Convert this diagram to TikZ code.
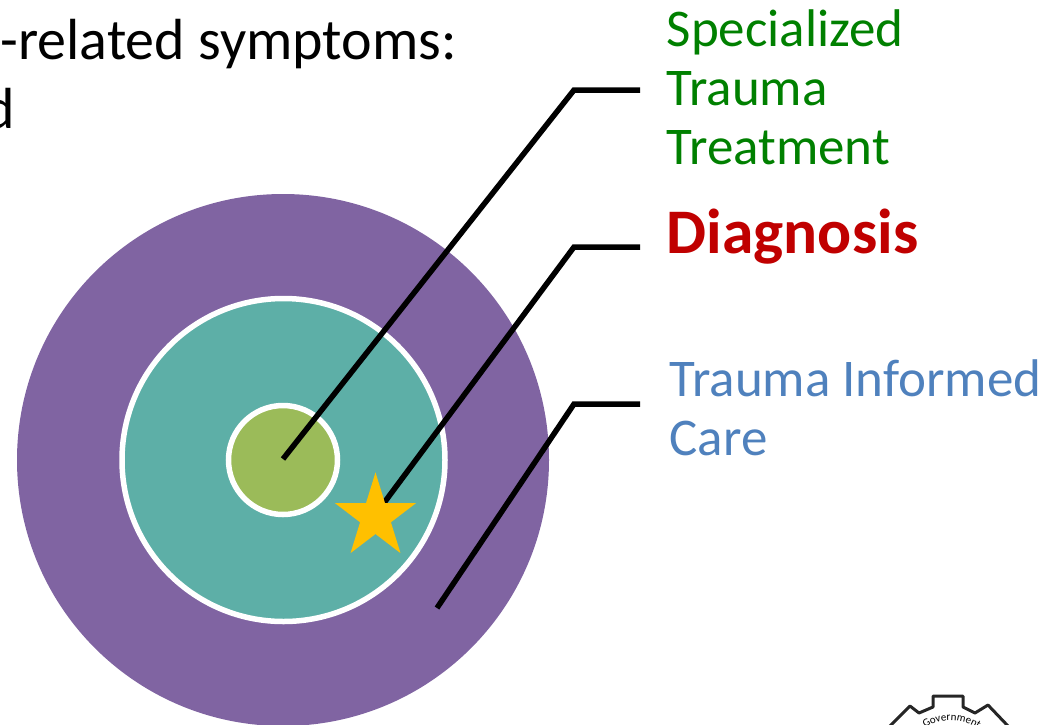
\documentclass[tikz,border=0pt]{standalone}
\usepackage{fontspec}
\setmainfont{Carlito}
\usetikzlibrary{shapes.geometric,decorations.text}
\definecolor{Outer}{HTML}{8064A2}
\definecolor{Middle}{HTML}{5DAFA7}
\definecolor{Inner}{HTML}{9BBB59}
\definecolor{Star}{HTML}{FFC000}
\definecolor{Special}{HTML}{008000}
\definecolor{Diag}{HTML}{C00000}
\definecolor{Care}{HTML}{4F81BD}

\begin{document}
\begin{tikzpicture}[
  x=1pt,y=-1pt,
  ring/.style={circle,draw=white,line width=5.5pt,inner sep=0pt},
  lab/.style={anchor=north west,align=left,inner sep=0pt,font=\fontsize{53}{59}\selectfont},
  head/.style={anchor=base east,inner sep=0pt,font=\fontsize{58}{69}\selectfont},
  lead/.style={draw=black,line width=5.5pt,line join=miter},
  gear/.style={draw=black!85,line width=3pt,line join=round}
]
  \useasboundingbox (0,0) rectangle (1053,724);
  \clip (0,0) rectangle (1053,724);

  \node[circle,fill=Outer,inner sep=0pt,minimum size=532pt] (outer) at (283,460) {};
  \node[ring,fill=Middle,minimum size=323pt] (middle) at (283.5,460) {};
  \node[ring,fill=Inner,minimum size=109pt] (inner) at (283,460) {};

  \node[head] (title) at (457,59) {-related symptoms:};
  \node[head] (titleb) at (15,128) {d};

  \node[lab,text=Special] (special) at (666.5,9.5) {Specialized\\Trauma\\Treatment};
  \node[anchor=base west,inner sep=0pt,text=Diag,font=\fontsize{63.5}{69}\selectfont\bfseries] (diag) at (666.5,253) {Diagnosis};
  \node[lab,text=Care] (care) at (669.5,359.5) {Trauma Informed\\Care};

  % leaders
  \coordinate (specialend) at (640,90);
  \coordinate (specialbend) at (574,90);
  \coordinate (specialtip) at (283,459);
  \coordinate (diagend) at (640,247);
  \coordinate (diagbend) at (574,247);
  \coordinate (diagtip) at (375,515);
  \coordinate (careend) at (640,404);
  \coordinate (carebend) at (574,404);
  \coordinate (caretip) at (437,608);

  \draw[lead] (specialend) -- (specialbend) -- (specialtip);
  \draw[lead] (diagend) -- (diagbend) -- (diagtip);
  \draw[lead] (careend) -- (carebend) -- (caretip);

  \node[star,star points=5,star point ratio=2.618,fill=Star,inner sep=0pt,minimum size=85pt,yscale=1.05,transform shape] (goal) at (375.5,517) {};

  % logo at the corner
  \draw[gear] (890,726) -- (910,706) -- (919,713) -- (933,707) -- (933,696) -- (963,696) -- (963,707) -- (975,713) -- (988,705) -- (1008,726);
  \path[postaction={decorate,decoration={text along path,text align=center,
    text={|\fontsize{11}{11}\selectfont|Government}}}]
    (916,736) .. controls (935,715) and (965,715) .. (988,736);
\end{tikzpicture}
\end{document}
